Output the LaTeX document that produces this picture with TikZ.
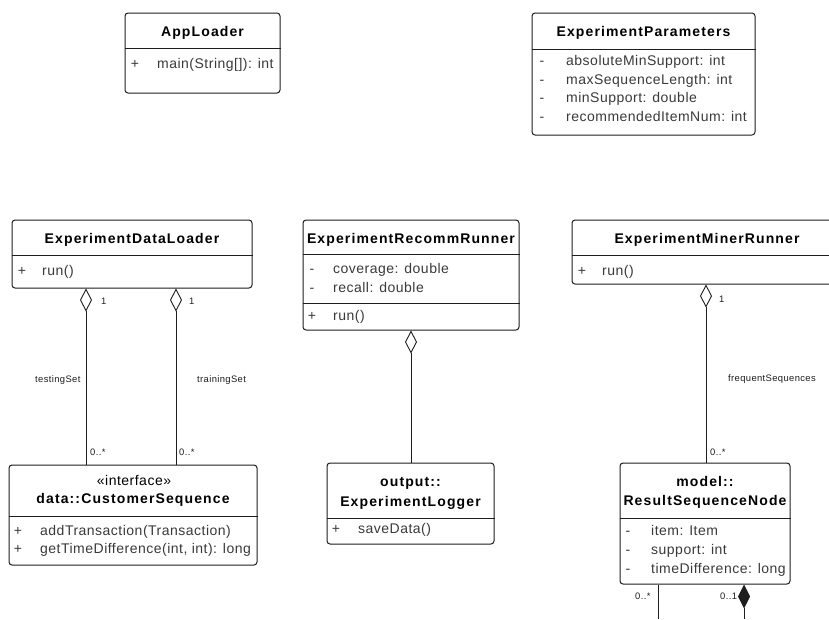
\documentclass[tikz,border=0pt]{standalone}
\usepackage{fontspec}
\setmainfont{Liberation Sans}[LetterSpace=3.5]
\newfontfamily\clsfont{Liberation Sans}[LetterSpace=8]
\newfontfamily\tagfont{Liberation Sans}[LetterSpace=4]
\usetikzlibrary{arrows.meta}
\definecolor{linec}{HTML}{1E1E1E}
\definecolor{memc}{HTML}{3A3A3A}

\begin{document}
\begin{tikzpicture}[x=1pt,y=-1pt,
  umlbox/.style={draw=linec, line width=1pt, rounded corners=3pt, fill=white, inner sep=0pt},
  divider/.style={draw=linec, line width=1pt},
  cls/.style={font=\clsfont\bfseries\fontsize{14}{17}\selectfont, text=black, inner sep=0pt, text height=10pt, text depth=3pt},
  stereo/.style={font=\fontsize{14}{17}\selectfont, text=black, inner sep=0pt, text height=10pt, text depth=3pt},
  vis/.style={font=\fontsize{14}{17}\selectfont, text=memc, inner sep=0pt, text height=10pt, text depth=3pt},
  mem/.style={vis, anchor=west},
  tag/.style={font=\tagfont\fontsize{9.4}{11}\selectfont, text=linec, inner sep=0pt, anchor=west, text height=7pt, text depth=2pt},
  link/.style={draw=linec, line width=0.9pt},
  aggr/.style={link, {Diamond[open, length=23pt, width=12pt, line width=0.9pt]}-},
  comp/.style={link, fill=black, {Diamond[length=24pt, width=12pt, line width=0.9pt]}-}
]
\useasboundingbox (0,0) rectangle (829,619);
\clip (0,0) rectangle (829,619);
\fill[white] (0,0) rectangle (829,619);

% ---------- class boxes ----------
\node[umlbox, minimum width=155pt, minimum height=80pt] (app) at (202.5,53) {};
\node[umlbox, minimum width=223pt, minimum height=122pt] (params) at (643.5,74) {};
\node[umlbox, minimum width=240pt, minimum height=68pt] (loader) at (132,254) {};
\node[umlbox, minimum width=216pt, minimum height=110pt] (recomm) at (411,275) {};
\node[umlbox, minimum width=270pt, minimum height=64pt] (miner) at (707,252) {};
\node[umlbox, minimum width=248pt, minimum height=100pt] (custseq) at (133,515) {};
\node[umlbox, minimum width=167pt, minimum height=81pt] (logger) at (410.5,503.5) {};
\node[umlbox, minimum width=170pt, minimum height=121pt] (rsn) at (705,523.5) {};

% compartment dividers
\draw[divider] (app.west |- 0,48) -- (app.east |- 0,48);
\draw[divider] (params.west |- 0,49) -- (params.east |- 0,49);
\draw[divider] (loader.west |- 0,255) -- (loader.east |- 0,255);
\draw[divider] (recomm.west |- 0,254) -- (recomm.east |- 0,254);
\draw[divider] (recomm.west |- 0,303) -- (recomm.east |- 0,303);
\draw[divider] (miner.west |- 0,255) -- (miner.east |- 0,255);
\draw[divider] (custseq.west |- 0,516) -- (custseq.east |- 0,516);
\draw[divider] (logger.west |- 0,518) -- (logger.east |- 0,518);
\draw[divider] (rsn.west |- 0,518) -- (rsn.east |- 0,518);

% ---------- AppLoader ----------
\node[cls] (appT) at (202.5,33) {AppLoader};
\node[vis] (appV1) at (135,65) {+};
\node[mem] (appM1) at (157,65) {main(String[]): int};

% ---------- ExperimentParameters ----------
\node[cls] (parT) at (643.5,33) {ExperimentParameters};
\node[vis] (parV1) at (542,62) {-};
\node[mem] (parA1) at (566,62) {absoluteMinSupport: int};
\node[vis] (parV2) at (542,81) {-};
\node[mem] (parA2) at (566,81) {maxSequenceLength: int};
\node[vis] (parV3) at (542,99) {-};
\node[mem] (parA3) at (566,99) {minSupport: double};
\node[vis] (parV4) at (542,118) {-};
\node[mem] (parA4) at (566,118) {recommendedItemNum: int};

% ---------- ExperimentDataLoader ----------
\node[cls] (ldT) at (132,240) {ExperimentDataLoader};
\node[vis] (ldV1) at (22,272) {+};
\node[mem] (ldM1) at (42,272) {run()};

% ---------- ExperimentRecommRunner ----------
\node[cls] (rcT) at (411,240) {ExperimentRecommRunner};
\node[vis] (rcV1) at (312,270) {-};
\node[mem] (rcA1) at (333,270) {coverage: double};
\node[vis] (rcV2) at (312,289) {-};
\node[mem] (rcA2) at (333,289) {recall: double};
\node[vis] (rcV3) at (312,317) {+};
\node[mem] (rcM1) at (333,317) {run()};

% ---------- ExperimentMinerRunner ----------
\node[cls] (mnT) at (707,240) {ExperimentMinerRunner};
\node[vis] (mnV1) at (582,272) {+};
\node[mem] (mnM1) at (602,272) {run()};

% ---------- data::CustomerSequence ----------
\node[stereo] (csS) at (134,482) {«interface»};
\node[cls] (csT) at (133,500) {data::CustomerSequence};
\node[vis] (csV1) at (18,532) {+};
\node[mem] (csM1) at (40,532) {addTransaction(Transaction)};
\node[vis] (csV2) at (18,550) {+};
\node[mem] (csM2) at (40,550) {getTimeDifference(int, int): long};

% ---------- output::ExperimentLogger ----------
\node[cls] (lgT1) at (410.5,483) {output::};
\node[cls] (lgT2) at (410.5,503) {ExperimentLogger};
\node[vis] (lgV1) at (336,530) {+};
\node[mem] (lgM1) at (358,530) {saveData()};

% ---------- model::ResultSequenceNode ----------
\node[cls] (rsT1) at (705,483) {model::};
\node[cls] (rsT2) at (705,502) {ResultSequenceNode};
\node[vis] (rsV1) at (628,532) {-};
\node[mem] (rsA1) at (651,532) {item: Item};
\node[vis] (rsV2) at (628,551) {-};
\node[mem] (rsA2) at (651,551) {support: int};
\node[vis] (rsV3) at (628,570) {-};
\node[mem] (rsA3) at (651,570) {timeDifference: long};

% ---------- associations ----------
\coordinate (testX) at (86,0);
\coordinate (trainX) at (176,0);
\coordinate (logX) at (411,0);
\coordinate (freqX) at (706,0);
\coordinate (selfA) at (658,619);
\coordinate (selfB) at (744,619);

\draw[aggr] (loader.south -| testX) -- (custseq.north -| testX);
\draw[aggr] (loader.south -| trainX) -- (custseq.north -| trainX);
\draw[aggr] (recomm.south -| logX) -- (logger.north -| logX);
\draw[aggr] (miner.south -| freqX) -- (rsn.north -| freqX);
\draw[link] (rsn.south -| selfA) -- (selfA);
\draw[comp] (rsn.south -| selfB) -- (selfB);

% role names and multiplicities
\node[tag] (m1) at (101,302) {1};
\node[tag] (m2) at (189,302) {1};
\node[tag] (m3) at (719,300) {1};
\node[tag] (m4) at (90,453) {0..*};
\node[tag] (m5) at (179,453) {0..*};
\node[tag] (m6) at (710,453) {0..*};
\node[tag] (m7) at (635,597) {0..*};
\node[tag] (m8) at (720,597) {0..1};
\node[tag] (r1) at (35,380) {testingSet};
\node[tag] (r2) at (197,380) {trainingSet};
\node[tag] (r3) at (728,379) {frequentSequences};
\end{tikzpicture}
\end{document}
